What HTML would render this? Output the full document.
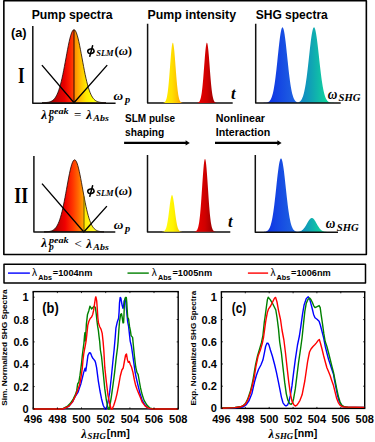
<!DOCTYPE html>
<html><head><meta charset="utf-8"><style>
html,body{margin:0;padding:0;background:#fff;}
body{width:375px;height:442px;overflow:hidden;font-family:"Liberation Sans",sans-serif;}
svg{display:block;}
</style></head><body>
<svg width="375" height="442" viewBox="0 0 375 442">
<defs>
<linearGradient id="g1" gradientUnits="userSpaceOnUse" x1="50" y1="0" x2="98" y2="0">
 <stop offset="0" stop-color="#900000"/>
 <stop offset="0.15" stop-color="#c80000"/>
 <stop offset="0.3" stop-color="#e80000"/>
 <stop offset="0.42" stop-color="#ff2000"/>
 <stop offset="0.5" stop-color="#ff4800"/>
 <stop offset="0.5" stop-color="#ff8400"/>
 <stop offset="0.58" stop-color="#ffa800"/>
 <stop offset="0.67" stop-color="#ffcc00"/>
 <stop offset="0.75" stop-color="#ffe800"/>
 <stop offset="0.88" stop-color="#ffff00"/>
 <stop offset="1" stop-color="#ffff40"/>
</linearGradient>
<linearGradient id="g2" gradientUnits="userSpaceOnUse" x1="50" y1="0" x2="100" y2="0">
 <stop offset="0" stop-color="#680000"/>
 <stop offset="0.16" stop-color="#c80000"/>
 <stop offset="0.3" stop-color="#f00000"/>
 <stop offset="0.46" stop-color="#ff3800"/>
 <stop offset="0.58" stop-color="#ff7000"/>
 <stop offset="0.675" stop-color="#ffa800"/>
 <stop offset="0.68" stop-color="#ffec00"/>
 <stop offset="1" stop-color="#ffff40"/>
</linearGradient>
<linearGradient id="gy" x1="0" y1="0" x2="1" y2="0">
 <stop offset="0" stop-color="#ffff20"/>
 <stop offset="0.55" stop-color="#fff400"/>
 <stop offset="1" stop-color="#f0c000"/>
</linearGradient>
<linearGradient id="gy1" x1="0" y1="0" x2="1" y2="0">
 <stop offset="0" stop-color="#fff000"/>
 <stop offset="0.45" stop-color="#ffe000"/>
 <stop offset="0.7" stop-color="#ffc000"/>
 <stop offset="1" stop-color="#ff8c00"/>
</linearGradient>
<linearGradient id="gr" x1="0" y1="0" x2="1" y2="0">
 <stop offset="0" stop-color="#f00000"/>
 <stop offset="0.5" stop-color="#d00000"/>
 <stop offset="1" stop-color="#800000"/>
</linearGradient>
<linearGradient id="gb" x1="0" y1="0" x2="1" y2="0">
 <stop offset="0" stop-color="#0a28e6"/>
 <stop offset="1" stop-color="#2068e0"/>
</linearGradient>
<linearGradient id="gt" x1="0" y1="0" x2="1" y2="0">
 <stop offset="0" stop-color="#1080c8"/>
 <stop offset="0.35" stop-color="#10a4b4"/>
 <stop offset="1" stop-color="#10f090"/>
</linearGradient>
</defs>
<rect x="3.85" y="0.8" width="362.5" height="253.65" fill="none" stroke="#000" stroke-width="1.6" stroke-linejoin="round"/>
<text x="31.7" y="18.9" font-family="Liberation Sans, sans-serif" font-weight="bold" font-size="12" textLength="80.8" lengthAdjust="spacingAndGlyphs">Pump spectra</text>
<text x="147.5" y="18.9" font-family="Liberation Sans, sans-serif" font-weight="bold" font-size="12" textLength="88.5" lengthAdjust="spacingAndGlyphs">Pump intensity</text>
<text x="255.8" y="18.9" font-family="Liberation Sans, sans-serif" font-weight="bold" font-size="12" textLength="72" lengthAdjust="spacingAndGlyphs">SHG spectra</text>
<text x="11" y="36.9" font-family="Liberation Sans, sans-serif" font-weight="bold" font-size="12" textLength="15.6" lengthAdjust="spacingAndGlyphs">(a)</text>
<text x="18" y="82.8" font-family="Liberation Serif, serif" font-weight="bold" font-size="23" textLength="6.6" lengthAdjust="spacingAndGlyphs">I</text>
<text x="14.3" y="203.3" font-family="Liberation Serif, serif" font-weight="bold" font-size="23" textLength="13.8" lengthAdjust="spacingAndGlyphs">II</text>
<path d="M42.00,102.70 L42.00,102.67 L42.80,102.66 L43.60,102.64 L44.40,102.61 L45.20,102.57 L46.00,102.51 L46.80,102.44 L47.60,102.34 L48.40,102.21 L49.20,102.03 L50.00,101.79 L50.80,101.49 L51.60,101.11 L52.40,100.61 L53.20,100.00 L54.00,99.24 L54.80,98.30 L55.60,97.17 L56.40,95.81 L57.20,94.20 L58.00,92.32 L58.80,90.15 L59.60,87.67 L60.40,84.87 L61.20,81.76 L62.00,78.34 L62.80,74.64 L63.60,70.69 L64.40,66.53 L65.20,62.24 L66.00,57.88 L66.80,53.52 L67.60,49.27 L68.40,45.22 L69.20,41.46 L70.00,38.08 L70.80,35.18 L71.60,32.84 L72.40,31.11 L73.20,30.06 L74.00,29.70 L74.80,30.06 L75.60,31.11 L76.40,32.84 L77.20,35.18 L78.00,38.08 L78.80,41.46 L79.60,45.22 L80.40,49.27 L81.20,53.52 L82.00,57.88 L82.80,62.24 L83.60,66.53 L84.40,70.69 L85.20,74.64 L86.00,78.34 L86.80,81.76 L87.60,84.87 L88.40,87.67 L89.20,90.15 L90.00,92.32 L90.80,94.20 L91.60,95.81 L92.40,97.17 L93.20,98.30 L94.00,99.24 L94.80,100.00 L95.60,100.61 L96.40,101.11 L97.20,101.49 L98.00,101.79 L98.80,102.03 L99.60,102.21 L100.40,102.34 L101.20,102.44 L102.00,102.51 L102.80,102.57 L103.60,102.61 L104.40,102.64 L105.20,102.66 L106.00,102.67 L106.00,102.70 Z" fill="url(#g1)" stroke="#1a0500" stroke-width="0.8"/>
<line x1="74" y1="29.7" x2="74" y2="102.7" stroke="#2a0800" stroke-width="1"/>
<path d="M41.9,65.1 L74,102.7 L107.2,65.1" fill="none" stroke="#000" stroke-width="1.4"/>
<path d="M32.8,26 L32.8,103.2 L115.6,103.2" fill="none" stroke="#111" stroke-width="1.5" stroke-linejoin="round"/>
<path d="M147.6,23.7 L147.6,103.0 L232.7,103.0" fill="none" stroke="#111" stroke-width="1.5" stroke-linejoin="round"/>
<path d="M162.00,103.00 L162.00,102.97 L162.28,102.96 L162.55,102.94 L162.82,102.92 L163.10,102.88 L163.38,102.83 L163.65,102.76 L163.93,102.67 L164.20,102.55 L164.47,102.38 L164.75,102.17 L165.03,101.89 L165.30,101.54 L165.57,101.09 L165.85,100.53 L166.12,99.83 L166.40,98.98 L166.68,97.95 L166.95,96.72 L167.22,95.28 L167.50,93.59 L167.78,91.64 L168.05,89.43 L168.32,86.96 L168.60,84.22 L168.88,81.22 L169.15,78.01 L169.43,74.60 L169.70,71.06 L169.97,67.42 L170.25,63.77 L170.53,60.17 L170.80,56.71 L171.07,53.47 L171.35,50.53 L171.62,47.96 L171.90,45.84 L172.18,44.24 L172.45,43.19 L172.72,42.72 L173.00,42.86 L173.28,43.59 L173.55,44.90 L173.82,46.75 L174.10,49.07 L174.38,51.82 L174.65,54.91 L174.93,58.26 L175.20,61.80 L175.47,65.43 L175.75,69.08 L176.03,72.68 L176.30,76.17 L176.57,79.50 L176.85,82.61 L177.12,85.49 L177.40,88.12 L177.68,90.47 L177.95,92.56 L178.22,94.38 L178.50,95.96 L178.78,97.31 L179.05,98.44 L179.32,99.39 L179.60,100.16 L179.88,100.80 L180.15,101.31 L180.43,101.71 L180.70,102.03 L180.97,102.27 L181.25,102.46 L181.53,102.61 L181.80,102.72 L182.07,102.80 L182.35,102.85 L182.62,102.90 L182.90,102.93 L183.18,102.95 L183.45,102.97 L183.72,102.98 L184.00,102.98 L184.00,103.00 Z" fill="url(#gy1)"/>
<path d="M196.00,103.00 L196.00,102.98 L196.28,102.97 L196.55,102.95 L196.82,102.93 L197.10,102.89 L197.38,102.85 L197.65,102.79 L197.93,102.71 L198.20,102.60 L198.47,102.45 L198.75,102.25 L199.03,102.00 L199.30,101.68 L199.57,101.26 L199.85,100.74 L200.12,100.10 L200.40,99.31 L200.68,98.35 L200.95,97.20 L201.22,95.83 L201.50,94.23 L201.78,92.38 L202.05,90.27 L202.32,87.89 L202.60,85.24 L202.88,82.34 L203.15,79.20 L203.43,75.86 L203.70,72.36 L203.97,68.75 L204.25,65.10 L204.53,61.47 L204.80,57.95 L205.07,54.62 L205.35,51.56 L205.62,48.84 L205.90,46.56 L206.18,44.76 L206.45,43.50 L206.72,42.82 L207.00,42.74 L207.28,43.26 L207.55,44.36 L207.82,46.02 L208.10,48.18 L208.38,50.78 L208.65,53.75 L208.93,57.02 L209.20,60.50 L209.47,64.10 L209.75,67.76 L210.03,71.38 L210.30,74.92 L210.57,78.31 L210.85,81.51 L211.12,84.47 L211.40,87.19 L211.68,89.65 L211.95,91.83 L212.22,93.75 L212.50,95.42 L212.78,96.84 L213.05,98.05 L213.32,99.06 L213.60,99.90 L213.88,100.58 L214.15,101.13 L214.43,101.57 L214.70,101.92 L214.97,102.19 L215.25,102.40 L215.53,102.56 L215.80,102.68 L216.07,102.77 L216.35,102.84 L216.62,102.88 L216.90,102.92 L217.18,102.94 L217.45,102.96 L217.72,102.97 L218.00,102.98 L218.00,103.00 Z" fill="url(#gr)"/>
<path d="M262.00,102.90 L262.00,102.89 L262.45,102.89 L262.90,102.88 L263.35,102.88 L263.81,102.87 L264.26,102.85 L264.71,102.83 L265.16,102.80 L265.61,102.76 L266.06,102.71 L266.51,102.64 L266.96,102.54 L267.42,102.41 L267.87,102.24 L268.32,102.02 L268.77,101.74 L269.22,101.38 L269.67,100.93 L270.12,100.36 L270.57,99.67 L271.02,98.81 L271.48,97.78 L271.93,96.55 L272.38,95.09 L272.83,93.38 L273.28,91.40 L273.73,89.14 L274.18,86.57 L274.63,83.71 L275.09,80.54 L275.54,77.08 L275.99,73.35 L276.44,69.40 L276.89,65.25 L277.34,60.97 L277.79,56.62 L278.25,52.29 L278.70,48.04 L279.15,43.97 L279.60,40.16 L280.05,36.72 L280.50,33.71 L280.95,31.21 L281.40,29.29 L281.86,27.99 L282.31,27.36 L282.76,27.41 L283.21,28.14 L283.66,29.52 L284.11,31.53 L284.56,34.10 L285.01,37.18 L285.47,40.68 L285.92,44.53 L286.37,48.63 L286.82,52.89 L287.27,57.24 L287.72,61.58 L288.17,65.85 L288.62,69.97 L289.08,73.90 L289.53,77.58 L289.98,81.00 L290.43,84.13 L290.88,86.95 L291.33,89.47 L291.78,91.70 L292.23,93.64 L292.69,95.31 L293.14,96.74 L293.59,97.94 L294.04,98.95 L294.49,99.77 L294.94,100.45 L295.39,101.00 L295.84,101.44 L296.30,101.79 L296.75,102.06 L297.20,102.27 L297.65,102.43 L298.10,102.56 L298.10,102.90 Z" fill="url(#gb)"/>
<path d="M298.10,102.90 L298.10,102.42 L298.57,102.25 L299.05,102.04 L299.52,101.76 L300.00,101.40 L300.47,100.96 L300.94,100.40 L301.42,99.72 L301.89,98.88 L302.36,97.86 L302.84,96.64 L303.31,95.21 L303.79,93.52 L304.26,91.57 L304.73,89.33 L305.21,86.80 L305.68,83.97 L306.15,80.83 L306.63,77.41 L307.10,73.72 L307.58,69.79 L308.05,65.67 L308.52,61.41 L309.00,57.08 L309.47,52.75 L309.94,48.50 L310.42,44.42 L310.89,40.59 L311.37,37.10 L311.84,34.04 L312.31,31.49 L312.79,29.49 L313.26,28.12 L313.73,27.41 L314.21,27.37 L314.68,28.00 L315.16,29.29 L315.63,31.21 L316.10,33.70 L316.58,36.70 L317.05,40.13 L317.52,43.92 L318.00,47.98 L318.47,52.22 L318.94,56.54 L319.42,60.88 L319.89,65.15 L320.37,69.29 L320.84,73.24 L321.31,76.96 L321.79,80.42 L322.26,83.59 L322.74,86.46 L323.21,89.03 L323.68,91.31 L324.16,93.29 L324.63,95.01 L325.10,96.48 L325.58,97.72 L326.05,98.76 L326.52,99.62 L327.00,100.32 L327.47,100.90 L327.95,101.35 L328.42,101.72 L328.89,102.01 L329.37,102.23 L329.84,102.40 L330.31,102.53 L330.79,102.63 L331.26,102.70 L331.74,102.76 L332.21,102.80 L332.68,102.83 L333.16,102.85 L333.63,102.87 L334.11,102.88 L334.58,102.88 L335.05,102.89 L335.53,102.89 L336.00,102.90 L336.00,102.90 Z" fill="url(#gt)"/>
<path d="M255.7,23.7 L255.7,102.9 L340.7,102.9" fill="none" stroke="#111" stroke-width="1.5" stroke-linejoin="round"/>
<path d="M44.00,231.90 L44.00,231.86 L44.75,231.84 L45.50,231.82 L46.25,231.78 L47.00,231.74 L47.75,231.68 L48.50,231.59 L49.25,231.48 L50.00,231.33 L50.75,231.14 L51.50,230.90 L52.25,230.58 L53.00,230.18 L53.75,229.68 L54.50,229.07 L55.25,228.31 L56.00,227.39 L56.75,226.29 L57.50,224.97 L58.25,223.43 L59.00,221.64 L59.75,219.58 L60.50,217.24 L61.25,214.61 L62.00,211.69 L62.75,208.49 L63.50,205.03 L64.25,201.34 L65.00,197.44 L65.75,193.40 L66.50,189.28 L67.25,185.13 L68.00,181.04 L68.75,177.09 L69.50,173.36 L70.25,169.94 L71.00,166.91 L71.75,164.34 L72.50,162.30 L73.25,160.85 L74.00,160.01 L74.75,159.81 L75.50,160.27 L76.25,161.36 L77.00,163.05 L77.75,165.31 L78.50,168.07 L79.25,171.27 L80.00,174.82 L80.75,178.65 L81.50,182.66 L82.25,186.79 L83.00,190.93 L83.75,195.03 L84.50,199.02 L85.25,202.84 L86.00,206.45 L86.75,209.80 L87.50,212.89 L88.25,215.69 L89.00,218.21 L89.75,220.44 L90.50,222.39 L91.25,224.08 L92.00,225.52 L92.75,226.75 L93.50,227.78 L94.25,228.63 L95.00,229.33 L95.75,229.90 L96.50,230.35 L97.25,230.72 L98.00,231.00 L98.75,231.23 L99.50,231.40 L100.25,231.53 L101.00,231.63 L101.75,231.70 L102.50,231.76 L103.25,231.80 L104.00,231.83 L104.00,231.90 Z" fill="url(#g2)" stroke="#1a0500" stroke-width="0.8"/>
<line x1="84" y1="196.4" x2="84" y2="231.9" stroke="#7a6000" stroke-width="1.1"/>
<path d="M42,183.6 L83.8,231.9 L106.9,206.1" fill="none" stroke="#000" stroke-width="1.4"/>
<path d="M33.9,156 L33.9,231.9 L115.3,231.9" fill="none" stroke="#111" stroke-width="1.5" stroke-linejoin="round"/>
<path d="M147.5,155.1 L147.5,232 L230.3,232" fill="none" stroke="#111" stroke-width="1.5" stroke-linejoin="round"/>
<path d="M161.00,231.70 L161.00,231.69 L161.28,231.68 L161.55,231.67 L161.82,231.66 L162.10,231.64 L162.38,231.62 L162.65,231.59 L162.93,231.54 L163.20,231.48 L163.47,231.40 L163.75,231.29 L164.03,231.15 L164.30,230.97 L164.57,230.74 L164.85,230.45 L165.12,230.09 L165.40,229.65 L165.68,229.10 L165.95,228.45 L166.22,227.66 L166.50,226.75 L166.78,225.68 L167.05,224.46 L167.32,223.07 L167.60,221.52 L167.88,219.82 L168.15,217.96 L168.43,215.98 L168.70,213.88 L168.97,211.71 L169.25,209.50 L169.53,207.29 L169.80,205.12 L170.07,203.05 L170.35,201.13 L170.62,199.40 L170.90,197.91 L171.18,196.71 L171.45,195.82 L171.72,195.28 L172.00,195.10 L172.28,195.28 L172.55,195.82 L172.82,196.71 L173.10,197.91 L173.38,199.40 L173.65,201.13 L173.93,203.05 L174.20,205.12 L174.47,207.29 L174.75,209.50 L175.03,211.71 L175.30,213.88 L175.57,215.98 L175.85,217.96 L176.12,219.82 L176.40,221.52 L176.68,223.07 L176.95,224.46 L177.22,225.68 L177.50,226.75 L177.78,227.66 L178.05,228.45 L178.32,229.10 L178.60,229.65 L178.88,230.09 L179.15,230.45 L179.43,230.74 L179.70,230.97 L179.97,231.15 L180.25,231.29 L180.53,231.40 L180.80,231.48 L181.07,231.54 L181.35,231.59 L181.62,231.62 L181.90,231.64 L182.18,231.66 L182.45,231.67 L182.72,231.68 L183.00,231.69 L183.00,231.70 Z" fill="url(#gy)"/>
<path d="M193.00,231.70 L193.00,231.69 L193.30,231.68 L193.60,231.67 L193.90,231.65 L194.20,231.63 L194.50,231.60 L194.80,231.55 L195.10,231.49 L195.40,231.40 L195.70,231.27 L196.00,231.11 L196.30,230.89 L196.60,230.60 L196.90,230.23 L197.20,229.74 L197.50,229.13 L197.80,228.36 L198.10,227.41 L198.40,226.24 L198.70,224.82 L199.00,223.14 L199.30,221.15 L199.60,218.84 L199.90,216.19 L200.20,213.20 L200.50,209.86 L200.80,206.19 L201.10,202.23 L201.40,198.01 L201.70,193.60 L202.00,189.07 L202.30,184.50 L202.60,180.01 L202.90,175.69 L203.20,171.66 L203.50,168.02 L203.80,164.87 L204.10,162.32 L204.40,160.44 L204.70,159.29 L205.00,158.90 L205.30,159.29 L205.60,160.44 L205.90,162.32 L206.20,164.87 L206.50,168.02 L206.80,171.66 L207.10,175.69 L207.40,180.01 L207.70,184.50 L208.00,189.07 L208.30,193.60 L208.60,198.01 L208.90,202.23 L209.20,206.19 L209.50,209.86 L209.80,213.20 L210.10,216.19 L210.40,218.84 L210.70,221.15 L211.00,223.14 L211.30,224.82 L211.60,226.24 L211.90,227.41 L212.20,228.36 L212.50,229.13 L212.80,229.74 L213.10,230.23 L213.40,230.60 L213.70,230.89 L214.00,231.11 L214.30,231.27 L214.60,231.40 L214.90,231.49 L215.20,231.55 L215.50,231.60 L215.80,231.63 L216.10,231.65 L216.40,231.67 L216.70,231.68 L217.00,231.69 L217.00,231.70 Z" fill="url(#gr)"/>
<path d="M260.00,232.00 L260.00,232.00 L260.46,231.99 L260.93,231.99 L261.39,231.99 L261.85,231.98 L262.31,231.97 L262.77,231.95 L263.24,231.93 L263.70,231.90 L264.16,231.86 L264.62,231.81 L265.09,231.73 L265.55,231.63 L266.01,231.49 L266.48,231.31 L266.94,231.08 L267.40,230.78 L267.86,230.39 L268.32,229.91 L268.79,229.30 L269.25,228.55 L269.71,227.63 L270.18,226.52 L270.64,225.19 L271.10,223.61 L271.56,221.77 L272.02,219.65 L272.49,217.23 L272.95,214.49 L273.41,211.45 L273.88,208.11 L274.34,204.48 L274.80,200.60 L275.26,196.51 L275.73,192.27 L276.19,187.95 L276.65,183.61 L277.11,179.35 L277.57,175.25 L278.04,171.41 L278.50,167.92 L278.96,164.87 L279.43,162.34 L279.89,160.39 L280.35,159.09 L280.81,158.46 L281.27,158.52 L281.74,159.28 L282.20,160.71 L282.66,162.77 L283.12,165.41 L283.59,168.55 L284.05,172.11 L284.51,176.01 L284.98,180.14 L285.44,184.43 L285.90,188.77 L286.36,193.08 L286.82,197.30 L287.29,201.35 L287.75,205.19 L288.21,208.76 L288.68,212.05 L289.14,215.03 L289.60,217.71 L290.06,220.08 L290.52,222.14 L290.99,223.93 L291.45,225.46 L291.91,226.74 L292.38,227.82 L292.84,228.70 L293.30,229.42 L293.76,230.01 L294.23,230.47 L294.69,230.84 L295.15,231.13 L295.61,231.35 L296.07,231.52 L296.54,231.65 L297.00,231.75 L297.00,232.00 Z" fill="url(#gb)"/>
<path d="M297.00,232.00 L297.00,231.89 L297.41,231.86 L297.82,231.82 L298.24,231.76 L298.65,231.70 L299.06,231.62 L299.48,231.52 L299.89,231.40 L300.30,231.25 L300.71,231.08 L301.12,230.88 L301.54,230.64 L301.95,230.37 L302.36,230.05 L302.77,229.70 L303.19,229.29 L303.60,228.85 L304.01,228.35 L304.43,227.81 L304.84,227.22 L305.25,226.59 L305.66,225.92 L306.07,225.23 L306.49,224.51 L306.90,223.78 L307.31,223.04 L307.73,222.31 L308.14,221.60 L308.55,220.92 L308.96,220.29 L309.38,219.71 L309.79,219.20 L310.20,218.77 L310.61,218.43 L311.02,218.19 L311.44,218.04 L311.85,218.00 L312.26,218.07 L312.68,218.24 L313.09,218.50 L313.50,218.87 L313.91,219.32 L314.32,219.84 L314.74,220.44 L315.15,221.08 L315.56,221.77 L315.98,222.49 L316.39,223.22 L316.80,223.96 L317.21,224.69 L317.62,225.40 L318.04,226.09 L318.45,226.75 L318.86,227.36 L319.27,227.94 L319.69,228.47 L320.10,228.96 L320.51,229.40 L320.93,229.79 L321.34,230.14 L321.75,230.44 L322.16,230.70 L322.57,230.93 L322.99,231.13 L323.40,231.29 L323.81,231.43 L324.23,231.54 L324.64,231.64 L325.05,231.71 L325.46,231.78 L325.88,231.83 L326.29,231.87 L326.70,231.90 L327.11,231.92 L327.52,231.94 L327.94,231.96 L328.35,231.97 L328.76,231.98 L329.18,231.98 L329.59,231.99 L330.00,231.99 L330.00,232.00 Z" fill="url(#gt)"/>
<path d="M255.3,155 L255.3,232.3 L338,232.3" fill="none" stroke="#111" stroke-width="1.5" stroke-linejoin="round"/>
<ellipse cx="90.9" cy="51.2" rx="3.2" ry="2.3" transform="rotate(-12 90.9 51.2)" fill="none" stroke="#000" stroke-width="1.5"/>
<line x1="92.6" y1="45.8" x2="89.8" y2="56.2" stroke="#000" stroke-width="1.5" stroke-linecap="round"/>
<text x="96.2" y="56" font-family="Liberation Serif, serif" font-weight="bold" font-style="italic" font-size="7.6" textLength="17.4" lengthAdjust="spacingAndGlyphs">SLM</text>
<text x="114.4" y="55.3" font-family="Liberation Serif, serif" font-weight="bold" font-size="12.5" textLength="17.7" lengthAdjust="spacingAndGlyphs">(<tspan font-style="italic">&#969;</tspan>)</text>
<ellipse cx="90.9" cy="191.2" rx="3.2" ry="2.3" transform="rotate(-12 90.9 191.2)" fill="none" stroke="#000" stroke-width="1.5"/>
<line x1="92.6" y1="185.8" x2="89.8" y2="196.2" stroke="#000" stroke-width="1.5" stroke-linecap="round"/>
<text x="96.2" y="196" font-family="Liberation Serif, serif" font-weight="bold" font-style="italic" font-size="7.6" textLength="17.4" lengthAdjust="spacingAndGlyphs">SLM</text>
<text x="114.4" y="195.3" font-family="Liberation Serif, serif" font-weight="bold" font-size="12.5" textLength="17.7" lengthAdjust="spacingAndGlyphs">(<tspan font-style="italic">&#969;</tspan>)</text>
<text x="113.6" y="99.8" font-family="Liberation Serif, serif" font-weight="bold" font-style="italic" font-size="13.5" textLength="9.6" lengthAdjust="spacingAndGlyphs">&#969;</text>
<text x="125.0" y="102.89999999999999" font-family="Liberation Serif, serif" font-weight="bold" font-style="italic" font-size="10.4">p</text>
<text x="113.7" y="229" font-family="Liberation Serif, serif" font-weight="bold" font-style="italic" font-size="13.5" textLength="9.6" lengthAdjust="spacingAndGlyphs">&#969;</text>
<text x="125.10000000000001" y="232.1" font-family="Liberation Serif, serif" font-weight="bold" font-style="italic" font-size="10.4">p</text>
<text x="230.9" y="98.9" font-family="Liberation Serif, serif" font-weight="bold" font-style="italic" font-size="16.5">t</text>
<text x="228.1" y="227.4" font-family="Liberation Serif, serif" font-weight="bold" font-style="italic" font-size="16.5">t</text>
<text x="327.7" y="98.6" font-family="Liberation Serif, serif" font-weight="bold" font-style="italic" font-size="14" textLength="9.6" lengthAdjust="spacingAndGlyphs">&#969;</text>
<text x="338.59999999999997" y="101.3" font-family="Liberation Serif, serif" font-weight="bold" font-style="italic" font-size="9.4" textLength="22" lengthAdjust="spacingAndGlyphs">SHG</text>
<text x="325.8" y="228.2" font-family="Liberation Serif, serif" font-weight="bold" font-style="italic" font-size="14" textLength="9.6" lengthAdjust="spacingAndGlyphs">&#969;</text>
<text x="336.7" y="230.89999999999998" font-family="Liberation Serif, serif" font-weight="bold" font-style="italic" font-size="9.4" textLength="22" lengthAdjust="spacingAndGlyphs">SHG</text>
<text x="41.2" y="118.5" font-family="Liberation Serif, serif" font-weight="bold" font-style="italic" font-size="13">&#955;</text>
<text x="48.9" y="113.7" font-family="Liberation Serif, serif" font-weight="bold" font-style="italic" font-size="9" textLength="19.8" lengthAdjust="spacingAndGlyphs">peak</text>
<text x="48.9" y="121.39999999999999" font-family="Liberation Serif, serif" font-weight="bold" font-style="italic" font-size="9.5">p</text>
<text x="74" y="118.8" font-family="Liberation Serif, serif" font-size="13">=</text>
<text x="86.2" y="119.1" font-family="Liberation Serif, serif" font-weight="bold" font-style="italic" font-size="13">&#955;</text>
<text x="93.3" y="121.39999999999999" font-family="Liberation Serif, serif" font-weight="bold" font-style="italic" font-size="8.6" textLength="15.5" lengthAdjust="spacingAndGlyphs">Abs</text>
<text x="41.2" y="247.3" font-family="Liberation Serif, serif" font-weight="bold" font-style="italic" font-size="13">&#955;</text>
<text x="48.9" y="242.5" font-family="Liberation Serif, serif" font-weight="bold" font-style="italic" font-size="9" textLength="19.8" lengthAdjust="spacingAndGlyphs">peak</text>
<text x="48.9" y="250.2" font-family="Liberation Serif, serif" font-weight="bold" font-style="italic" font-size="9.5">p</text>
<text x="74.6" y="247.6" font-family="Liberation Serif, serif" font-size="13">&lt;</text>
<text x="86.2" y="247.89999999999998" font-family="Liberation Serif, serif" font-weight="bold" font-style="italic" font-size="13">&#955;</text>
<text x="93.3" y="250.2" font-family="Liberation Serif, serif" font-weight="bold" font-style="italic" font-size="8.6" textLength="15.5" lengthAdjust="spacingAndGlyphs">Abs</text>
<text x="125.1" y="121.6" font-family="Liberation Sans, sans-serif" font-weight="bold" font-size="10.4" textLength="49.9" lengthAdjust="spacingAndGlyphs">SLM pulse</text>
<text x="125.1" y="135.7" font-family="Liberation Sans, sans-serif" font-weight="bold" font-size="10.4" textLength="39.1" lengthAdjust="spacingAndGlyphs">shaping</text>
<text x="215.8" y="121.7" font-family="Liberation Sans, sans-serif" font-weight="bold" font-size="10.4" textLength="49.2" lengthAdjust="spacingAndGlyphs">Nonlinear</text>
<text x="215.8" y="136.3" font-family="Liberation Sans, sans-serif" font-weight="bold" font-size="10.4" textLength="54.5" lengthAdjust="spacingAndGlyphs">Interaction</text>
<line x1="124.1" y1="142.9" x2="187" y2="142.9" stroke="#000" stroke-width="2.4"/>
<path d="M185.6,140.2 L189.8,142.9 L185.6,145.6 Z" fill="#000"/>
<line x1="215" y1="142.9" x2="279" y2="142.9" stroke="#000" stroke-width="2.4"/>
<path d="M277.4,140.2 L281.6,142.9 L277.4,145.6 Z" fill="#000"/>
<rect x="4" y="264.2" width="361.5" height="18.7" fill="none" stroke="#000" stroke-width="1.5" stroke-linejoin="round"/>
<line x1="8" y1="273.1" x2="29.9" y2="273.1" stroke="#0000ff" stroke-width="1.4"/>
<text x="32.1" y="275.8" font-family="Liberation Sans, sans-serif" font-size="10">&#955;</text>
<text x="38.300000000000004" y="279.8" font-family="Liberation Sans, sans-serif" font-weight="bold" font-size="7.4" textLength="13.6" lengthAdjust="spacingAndGlyphs">Abs</text>
<text x="52.8" y="275.6" font-family="Liberation Sans, sans-serif" font-weight="bold" font-size="9.4" textLength="39.6" lengthAdjust="spacingAndGlyphs">=1004nm</text>
<line x1="127.5" y1="273.1" x2="148.8" y2="273.1" stroke="#008000" stroke-width="1.4"/>
<text x="151.8" y="275.8" font-family="Liberation Sans, sans-serif" font-size="10">&#955;</text>
<text x="158.0" y="279.8" font-family="Liberation Sans, sans-serif" font-weight="bold" font-size="7.4" textLength="13.6" lengthAdjust="spacingAndGlyphs">Abs</text>
<text x="172.5" y="275.6" font-family="Liberation Sans, sans-serif" font-weight="bold" font-size="9.4" textLength="39.6" lengthAdjust="spacingAndGlyphs">=1005nm</text>
<line x1="247.9" y1="273.1" x2="268.1" y2="273.1" stroke="#ff0000" stroke-width="1.4"/>
<text x="270.4" y="275.8" font-family="Liberation Sans, sans-serif" font-size="10">&#955;</text>
<text x="276.59999999999997" y="279.8" font-family="Liberation Sans, sans-serif" font-weight="bold" font-size="7.4" textLength="13.6" lengthAdjust="spacingAndGlyphs">Abs</text>
<text x="291.09999999999997" y="275.6" font-family="Liberation Sans, sans-serif" font-weight="bold" font-size="9.4" textLength="39.6" lengthAdjust="spacingAndGlyphs">=1006nm</text>
<rect x="33.2" y="291.6" width="145.0" height="117.29999999999995" fill="none" stroke="#000" stroke-width="1.4"/>
<path d="M33.2,409.0 L63.0,409.0 L69.0,406.1 L72.5,401.9 L75.3,396.3 L78.1,392.1 L79.5,387.9 L80.9,383.7 L82.3,378.0 L83.7,372.4 L85.1,368.2 L85.8,371.0 L87.0,362.6 L87.9,355.6 L89.3,352.8 L90.5,353.0 L91.5,355.6 L92.6,358.0 L93.8,359.4 L95.0,361.0 L95.6,362.8 L96.6,367.7 L98.3,380.8 L99.9,390.5 L101.5,398.7 L103.2,405.2 L104.8,408.5 L105.6,409.3 L106.4,408.5 L108.0,402.0 L109.7,392.2 L111.3,377.5 L112.9,361.2 L114.1,350.0 L115.2,337.5 L115.9,328.2 L117.3,321.9 L118.6,318.2 L119.1,311.9 L119.5,302.9 L120.2,297.4 L120.9,298.3 L121.5,302.0 L122.2,305.6 L123.0,308.3 L123.6,305.6 L124.2,301.0 L125.0,299.0 L125.8,302.0 L126.8,312.8 L127.7,321.9 L128.6,326.4 L130.2,341.1 L131.5,346.7 L132.6,354.1 L133.9,363.3 L135.2,372.6 L136.3,378.1 L137.6,383.7 L138.5,387.4 L140.4,394.8 L142.2,400.4 L145.0,405.0 L147.8,407.8 L151.0,409.0 L178.0,409.0" fill="none" stroke="#0000ff" stroke-width="1.4" stroke-linejoin="round"/>
<path d="M33.2,409.0 L62.0,409.0 L67.6,406.1 L70.4,403.3 L73.2,399.1 L75.3,394.9 L76.7,390.7 L77.7,383.7 L78.8,382.3 L80.0,375.2 L80.9,368.2 L81.6,362.6 L82.3,355.6 L83.0,350.0 L83.9,343.3 L84.5,336.0 L84.9,332.8 L85.3,341.0 L85.8,334.0 L86.4,323.9 L87.5,314.4 L88.9,310.4 L89.9,306.3 L90.9,307.6 L91.6,309.0 L92.9,307.6 L94.3,306.3 L95.4,307.6 L96.3,314.4 L97.0,321.2 L97.7,326.7 L98.4,330.7 L99.0,336.2 L99.7,341.6 L100.4,350.0 L101.5,356.3 L103.2,372.6 L104.8,388.9 L106.4,400.3 L107.7,406.9 L108.9,409.3 L109.7,406.9 L111.3,397.1 L112.9,385.7 L114.6,372.6 L116.2,357.9 L117.5,348.0 L118.1,341.6 L118.8,330.7 L119.5,322.0 L120.6,314.6 L121.5,313.7 L122.2,317.3 L123.0,322.8 L123.6,322.8 L124.0,314.6 L124.5,301.0 L125.4,297.4 L126.3,297.4 L126.8,302.9 L127.2,310.1 L127.7,317.3 L128.6,319.1 L129.5,326.4 L130.4,330.7 L131.1,335.6 L132.6,337.4 L133.3,344.8 L134.4,355.9 L135.7,367.0 L137.0,372.6 L138.1,374.4 L139.1,380.0 L140.4,387.4 L142.2,394.8 L144.1,400.4 L146.9,405.0 L149.6,407.8 L153.0,409.0 L178.0,409.0" fill="none" stroke="#008000" stroke-width="1.4" stroke-linejoin="round"/>
<path d="M33.2,409.0 L63.0,409.0 L69.0,406.1 L72.5,401.9 L75.3,396.3 L77.4,390.7 L79.5,385.1 L80.9,378.0 L82.3,368.2 L83.0,359.8 L83.7,354.2 L84.4,350.0 L85.2,346.0 L86.1,341.0 L86.8,334.8 L87.8,325.3 L88.9,321.2 L90.2,318.5 L91.6,317.1 L92.7,314.4 L93.6,310.4 L94.6,303.6 L95.4,298.1 L95.9,296.8 L96.7,300.9 L97.3,309.0 L97.8,317.1 L98.4,322.6 L99.7,326.7 L101.1,329.4 L102.2,333.4 L103.1,341.6 L103.8,350.0 L104.8,367.7 L106.4,382.4 L108.0,395.4 L109.7,403.6 L111.0,408.5 L112.1,409.3 L113.8,405.2 L115.4,400.3 L117.0,393.8 L118.6,385.7 L120.3,376.0 L121.9,370.0 L123.2,368.0 L124.3,362.0 L125.6,355.0 L126.5,354.1 L127.4,359.6 L128.3,362.4 L129.3,361.5 L130.2,364.3 L131.5,367.0 L133.0,372.6 L134.4,380.0 L135.7,385.6 L137.0,389.3 L138.5,393.0 L140.4,397.6 L142.2,402.2 L145.0,405.9 L147.8,407.8 L150.0,408.7 L155.0,409.0 L178.0,409.0" fill="none" stroke="#ff0000" stroke-width="1.4" stroke-linejoin="round"/>
<line x1="33.2" y1="408.9" x2="33.2" y2="407.4" stroke="#000" stroke-width="0.8"/>
<line x1="33.2" y1="291.6" x2="33.2" y2="293.1" stroke="#000" stroke-width="0.8"/>
<text x="33.2" y="423" font-family="Liberation Sans, sans-serif" font-weight="bold" font-size="11" text-anchor="middle">496</text>
<line x1="57.4" y1="408.9" x2="57.4" y2="407.4" stroke="#000" stroke-width="0.8"/>
<line x1="57.4" y1="291.6" x2="57.4" y2="293.1" stroke="#000" stroke-width="0.8"/>
<text x="57.4" y="423" font-family="Liberation Sans, sans-serif" font-weight="bold" font-size="11" text-anchor="middle">498</text>
<line x1="81.5" y1="408.9" x2="81.5" y2="407.4" stroke="#000" stroke-width="0.8"/>
<line x1="81.5" y1="291.6" x2="81.5" y2="293.1" stroke="#000" stroke-width="0.8"/>
<text x="81.5" y="423" font-family="Liberation Sans, sans-serif" font-weight="bold" font-size="11" text-anchor="middle">500</text>
<line x1="105.7" y1="408.9" x2="105.7" y2="407.4" stroke="#000" stroke-width="0.8"/>
<line x1="105.7" y1="291.6" x2="105.7" y2="293.1" stroke="#000" stroke-width="0.8"/>
<text x="105.7" y="423" font-family="Liberation Sans, sans-serif" font-weight="bold" font-size="11" text-anchor="middle">502</text>
<line x1="129.9" y1="408.9" x2="129.9" y2="407.4" stroke="#000" stroke-width="0.8"/>
<line x1="129.9" y1="291.6" x2="129.9" y2="293.1" stroke="#000" stroke-width="0.8"/>
<text x="129.9" y="423" font-family="Liberation Sans, sans-serif" font-weight="bold" font-size="11" text-anchor="middle">504</text>
<line x1="154.0" y1="408.9" x2="154.0" y2="407.4" stroke="#000" stroke-width="0.8"/>
<line x1="154.0" y1="291.6" x2="154.0" y2="293.1" stroke="#000" stroke-width="0.8"/>
<text x="154.0" y="423" font-family="Liberation Sans, sans-serif" font-weight="bold" font-size="11" text-anchor="middle">506</text>
<line x1="178.2" y1="408.9" x2="178.2" y2="407.4" stroke="#000" stroke-width="0.8"/>
<line x1="178.2" y1="291.6" x2="178.2" y2="293.1" stroke="#000" stroke-width="0.8"/>
<text x="178.2" y="423" font-family="Liberation Sans, sans-serif" font-weight="bold" font-size="11" text-anchor="middle">508</text>
<line x1="33.2" y1="408.9" x2="34.7" y2="408.9" stroke="#000" stroke-width="0.8"/>
<line x1="178.2" y1="408.9" x2="176.7" y2="408.9" stroke="#000" stroke-width="0.8"/>
<text x="28.700000000000003" y="412.9" font-family="Liberation Sans, sans-serif" font-weight="bold" font-size="11" text-anchor="end">0</text>
<line x1="33.2" y1="386.6" x2="34.7" y2="386.6" stroke="#000" stroke-width="0.8"/>
<line x1="178.2" y1="386.6" x2="176.7" y2="386.6" stroke="#000" stroke-width="0.8"/>
<text x="28.700000000000003" y="390.6" font-family="Liberation Sans, sans-serif" font-weight="bold" font-size="11" text-anchor="end">0.2</text>
<line x1="33.2" y1="364.2" x2="34.7" y2="364.2" stroke="#000" stroke-width="0.8"/>
<line x1="178.2" y1="364.2" x2="176.7" y2="364.2" stroke="#000" stroke-width="0.8"/>
<text x="28.700000000000003" y="368.2" font-family="Liberation Sans, sans-serif" font-weight="bold" font-size="11" text-anchor="end">0.4</text>
<line x1="33.2" y1="341.9" x2="34.7" y2="341.9" stroke="#000" stroke-width="0.8"/>
<line x1="178.2" y1="341.9" x2="176.7" y2="341.9" stroke="#000" stroke-width="0.8"/>
<text x="28.700000000000003" y="345.9" font-family="Liberation Sans, sans-serif" font-weight="bold" font-size="11" text-anchor="end">0.6</text>
<line x1="33.2" y1="319.5" x2="34.7" y2="319.5" stroke="#000" stroke-width="0.8"/>
<line x1="178.2" y1="319.5" x2="176.7" y2="319.5" stroke="#000" stroke-width="0.8"/>
<text x="28.700000000000003" y="323.5" font-family="Liberation Sans, sans-serif" font-weight="bold" font-size="11" text-anchor="end">0.8</text>
<line x1="33.2" y1="297.2" x2="34.7" y2="297.2" stroke="#000" stroke-width="0.8"/>
<line x1="178.2" y1="297.2" x2="176.7" y2="297.2" stroke="#000" stroke-width="0.8"/>
<text x="28.700000000000003" y="301.2" font-family="Liberation Sans, sans-serif" font-weight="bold" font-size="11" text-anchor="end">1</text>
<text transform="translate(7.4,347.6) rotate(-90)" font-family="Liberation Sans, sans-serif" font-weight="bold" font-size="7.8" x="-58.25" textLength="116.5" lengthAdjust="spacingAndGlyphs">Sim. Normalized SHG Spectra</text>
<text x="42.3" y="312.9" font-family="Liberation Sans, sans-serif" font-weight="bold" font-size="13.8" textLength="16.4" lengthAdjust="spacingAndGlyphs">(b)</text>
<text x="81.2" y="438" font-family="Liberation Serif, serif" font-weight="bold" font-style="italic" font-size="12.5">&#955;</text>
<text x="87.6" y="438.8" font-family="Liberation Serif, serif" font-weight="bold" font-style="italic" font-size="8.4" textLength="18.2" lengthAdjust="spacingAndGlyphs">SHG</text>
<text x="106.8" y="437.3" font-family="Liberation Sans, sans-serif" font-weight="bold" font-size="11.5" textLength="23" lengthAdjust="spacingAndGlyphs">[nm]</text>
<rect x="221.4" y="291.8" width="143.29999999999998" height="116.59999999999997" fill="none" stroke="#000" stroke-width="1.4"/>
<path d="M221.4,408.2 L235.0,407.8 L243.0,407.0 L246.3,404.7 L249.1,400.5 L251.9,393.5 L254.5,382.0 L256.5,375.0 L258.5,369.5 L260.9,365.0 L262.9,360.1 L264.3,353.3 L265.6,346.5 L267.0,343.1 L267.9,343.1 L269.0,345.1 L270.4,350.0 L272.4,356.3 L274.6,364.5 L276.5,372.6 L278.2,380.8 L279.8,388.9 L281.4,397.1 L283.0,402.8 L284.7,405.2 L286.0,406.0 L287.6,404.9 L288.8,402.0 L290.4,395.4 L292.0,385.7 L293.6,372.6 L295.3,359.6 L297.5,345.0 L299.4,336.0 L300.8,326.7 L302.5,314.4 L304.1,304.9 L306.2,298.8 L308.2,296.8 L309.6,298.8 L310.9,303.6 L312.3,309.0 L313.6,314.4 L315.0,317.8 L317.0,319.2 L319.1,321.2 L320.4,325.3 L322.5,333.4 L323.7,338.0 L325.3,346.5 L326.9,353.0 L328.6,359.5 L330.2,364.4 L331.8,369.3 L333.5,374.2 L334.3,379.0 L335.9,387.2 L337.5,395.3 L339.1,401.0 L340.8,404.3 L343.0,406.5 L346.0,407.1 L364.7,407.4" fill="none" stroke="#0000ff" stroke-width="1.4" stroke-linejoin="round"/>
<path d="M221.4,408.0 L235.0,407.5 L240.6,406.8 L243.5,405.4 L245.6,403.3 L247.7,399.1 L249.1,394.9 L250.5,390.7 L251.9,385.1 L253.3,378.1 L254.7,369.6 L255.4,365.5 L257.5,356.0 L259.5,349.2 L261.5,342.4 L262.9,335.6 L263.6,328.9 L264.3,322.1 L264.9,318.0 L266.2,308.4 L267.4,299.6 L268.2,297.2 L270.2,299.6 L272.2,302.8 L274.2,306.8 L275.8,310.0 L277.1,318.0 L278.5,328.9 L279.7,342.0 L281.4,353.0 L283.0,367.7 L284.7,382.4 L286.3,393.8 L287.9,400.3 L289.6,403.6 L291.2,404.4 L292.5,402.8 L293.6,398.7 L295.3,388.9 L296.9,375.9 L298.5,362.8 L300.4,350.0 L302.1,337.5 L303.5,323.9 L304.8,311.7 L306.2,303.6 L307.9,299.5 L309.6,298.1 L310.9,299.5 L312.3,302.2 L313.6,305.6 L315.0,307.6 L316.4,307.0 L317.7,306.3 L319.1,305.6 L320.2,307.6 L321.1,314.4 L322.5,323.9 L323.8,333.4 L325.2,341.6 L326.9,346.5 L328.6,353.0 L330.2,359.5 L331.8,366.0 L333.5,372.5 L335.1,380.7 L336.7,388.8 L338.3,396.1 L340.0,401.8 L341.6,405.1 L344.0,406.7 L348.0,407.2 L364.7,407.4" fill="none" stroke="#008000" stroke-width="1.4" stroke-linejoin="round"/>
<path d="M221.4,408.2 L235.0,407.6 L240.6,406.8 L243.5,405.6 L245.6,403.8 L247.7,400.0 L249.1,396.5 L250.5,392.5 L251.9,387.5 L253.3,381.0 L254.1,378.0 L256.1,365.5 L258.1,356.0 L260.2,350.6 L262.2,343.8 L263.6,337.0 L264.7,328.9 L265.6,322.1 L266.3,318.0 L267.4,312.4 L268.6,308.8 L270.6,306.0 L272.6,302.0 L274.6,298.0 L275.6,297.4 L277.0,302.0 L278.6,310.8 L280.6,320.0 L282.0,330.0 L283.9,340.0 L285.5,353.0 L287.1,367.7 L288.8,382.4 L290.4,393.8 L292.0,401.1 L293.6,404.4 L295.3,406.0 L296.9,405.2 L298.5,402.8 L300.0,400.3 L302.1,394.8 L304.8,381.0 L307.6,361.7 L309.5,352.0 L311.0,349.0 L313.0,346.5 L315.0,344.5 L316.4,342.9 L318.4,340.2 L319.3,339.5 L320.4,343.0 L322.0,349.0 L323.7,356.0 L325.3,362.0 L326.9,367.7 L328.6,371.7 L330.2,375.8 L331.8,380.7 L333.5,385.6 L335.1,392.1 L336.7,398.6 L338.3,402.6 L340.0,405.1 L342.4,406.7 L345.7,407.0 L364.7,407.4" fill="none" stroke="#ff0000" stroke-width="1.4" stroke-linejoin="round"/>
<line x1="221.4" y1="408.4" x2="221.4" y2="406.9" stroke="#000" stroke-width="0.8"/>
<line x1="221.4" y1="291.8" x2="221.4" y2="293.3" stroke="#000" stroke-width="0.8"/>
<text x="221.4" y="423" font-family="Liberation Sans, sans-serif" font-weight="bold" font-size="11" text-anchor="middle">496</text>
<line x1="245.3" y1="408.4" x2="245.3" y2="406.9" stroke="#000" stroke-width="0.8"/>
<line x1="245.3" y1="291.8" x2="245.3" y2="293.3" stroke="#000" stroke-width="0.8"/>
<text x="245.3" y="423" font-family="Liberation Sans, sans-serif" font-weight="bold" font-size="11" text-anchor="middle">498</text>
<line x1="269.2" y1="408.4" x2="269.2" y2="406.9" stroke="#000" stroke-width="0.8"/>
<line x1="269.2" y1="291.8" x2="269.2" y2="293.3" stroke="#000" stroke-width="0.8"/>
<text x="269.2" y="423" font-family="Liberation Sans, sans-serif" font-weight="bold" font-size="11" text-anchor="middle">500</text>
<line x1="293.1" y1="408.4" x2="293.1" y2="406.9" stroke="#000" stroke-width="0.8"/>
<line x1="293.1" y1="291.8" x2="293.1" y2="293.3" stroke="#000" stroke-width="0.8"/>
<text x="293.1" y="423" font-family="Liberation Sans, sans-serif" font-weight="bold" font-size="11" text-anchor="middle">502</text>
<line x1="316.9" y1="408.4" x2="316.9" y2="406.9" stroke="#000" stroke-width="0.8"/>
<line x1="316.9" y1="291.8" x2="316.9" y2="293.3" stroke="#000" stroke-width="0.8"/>
<text x="316.9" y="423" font-family="Liberation Sans, sans-serif" font-weight="bold" font-size="11" text-anchor="middle">504</text>
<line x1="340.8" y1="408.4" x2="340.8" y2="406.9" stroke="#000" stroke-width="0.8"/>
<line x1="340.8" y1="291.8" x2="340.8" y2="293.3" stroke="#000" stroke-width="0.8"/>
<text x="340.8" y="423" font-family="Liberation Sans, sans-serif" font-weight="bold" font-size="11" text-anchor="middle">506</text>
<line x1="364.7" y1="408.4" x2="364.7" y2="406.9" stroke="#000" stroke-width="0.8"/>
<line x1="364.7" y1="291.8" x2="364.7" y2="293.3" stroke="#000" stroke-width="0.8"/>
<text x="364.7" y="423" font-family="Liberation Sans, sans-serif" font-weight="bold" font-size="11" text-anchor="middle">508</text>
<line x1="221.4" y1="408.4" x2="222.9" y2="408.4" stroke="#000" stroke-width="0.8"/>
<line x1="364.7" y1="408.4" x2="363.2" y2="408.4" stroke="#000" stroke-width="0.8"/>
<text x="216.9" y="412.4" font-family="Liberation Sans, sans-serif" font-weight="bold" font-size="11" text-anchor="end">0</text>
<line x1="221.4" y1="386.2" x2="222.9" y2="386.2" stroke="#000" stroke-width="0.8"/>
<line x1="364.7" y1="386.2" x2="363.2" y2="386.2" stroke="#000" stroke-width="0.8"/>
<text x="216.9" y="390.2" font-family="Liberation Sans, sans-serif" font-weight="bold" font-size="11" text-anchor="end">0.2</text>
<line x1="221.4" y1="364.0" x2="222.9" y2="364.0" stroke="#000" stroke-width="0.8"/>
<line x1="364.7" y1="364.0" x2="363.2" y2="364.0" stroke="#000" stroke-width="0.8"/>
<text x="216.9" y="368.0" font-family="Liberation Sans, sans-serif" font-weight="bold" font-size="11" text-anchor="end">0.4</text>
<line x1="221.4" y1="341.8" x2="222.9" y2="341.8" stroke="#000" stroke-width="0.8"/>
<line x1="364.7" y1="341.8" x2="363.2" y2="341.8" stroke="#000" stroke-width="0.8"/>
<text x="216.9" y="345.8" font-family="Liberation Sans, sans-serif" font-weight="bold" font-size="11" text-anchor="end">0.6</text>
<line x1="221.4" y1="319.6" x2="222.9" y2="319.6" stroke="#000" stroke-width="0.8"/>
<line x1="364.7" y1="319.6" x2="363.2" y2="319.6" stroke="#000" stroke-width="0.8"/>
<text x="216.9" y="323.6" font-family="Liberation Sans, sans-serif" font-weight="bold" font-size="11" text-anchor="end">0.8</text>
<line x1="221.4" y1="297.4" x2="222.9" y2="297.4" stroke="#000" stroke-width="0.8"/>
<line x1="364.7" y1="297.4" x2="363.2" y2="297.4" stroke="#000" stroke-width="0.8"/>
<text x="216.9" y="301.4" font-family="Liberation Sans, sans-serif" font-weight="bold" font-size="11" text-anchor="end">1</text>
<text transform="translate(195.8,348.2) rotate(-90)" font-family="Liberation Sans, sans-serif" font-weight="bold" font-size="7.8" x="-57.35" textLength="114.7" lengthAdjust="spacingAndGlyphs">Exp. Normalized SHG Spectra</text>
<text x="231.7" y="312.9" font-family="Liberation Sans, sans-serif" font-weight="bold" font-size="13.8" textLength="14.6" lengthAdjust="spacingAndGlyphs">(c)</text>
<text x="268.6" y="438" font-family="Liberation Serif, serif" font-weight="bold" font-style="italic" font-size="12.5">&#955;</text>
<text x="275.0" y="438.8" font-family="Liberation Serif, serif" font-weight="bold" font-style="italic" font-size="8.4" textLength="18.2" lengthAdjust="spacingAndGlyphs">SHG</text>
<text x="294.2" y="437.3" font-family="Liberation Sans, sans-serif" font-weight="bold" font-size="11.5" textLength="23" lengthAdjust="spacingAndGlyphs">[nm]</text>
</svg>
</body></html>
